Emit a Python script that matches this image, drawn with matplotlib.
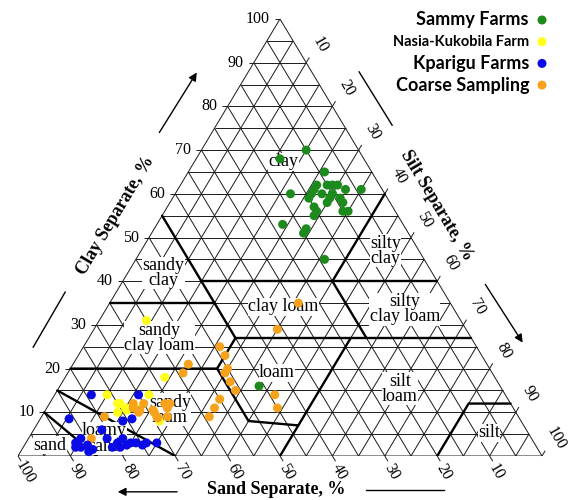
import numpy as np
import matplotlib.pyplot as plt

# Soil texture of each sample: percent sand and percent clay (silt is the rest)
sammy_sand = [10, 16, 9, 18, 4, 13, 12, 10, 9, 8, 7, 15, 14, 11, 12, 10, 9, 9, 10, 9,
              15, 15, 16, 10, 12, 23, 19, 20, 19, 46]
sammy_clay = [70, 68, 65, 60, 61, 61, 62, 62, 62, 62, 61, 59, 60, 59, 58, 60, 59, 58, 56, 56,
              57, 56, 55, 60, 60, 53, 52, 51, 45, 16]

nasia_sand = [60, 63, 76, 68, 75, 74, 74, 76, 69, 69, 72, 74.5]
nasia_clay = [31, 18, 14, 14, 12, 11, 10.5, 10, 9, 8, 11, 12]

kparigu_sand = [79, 70, 86, 81, 76, 74, 86, 88, 87, 86, 81, 79.5, 78, 76, 74, 72, 81, 79.5,
                78, 77, 75, 85, 87.5, 85.5]
kparigu_clay = [14, 14, 8.5, 6, 8, 8.5, 4, 2, 2, 1, 4, 3, 2.5, 3, 3, 3, 2, 2,
                4, 3, 2.5, 1.5, 3, 2.5]

coarse_sand = [29, 36, 49, 49, 50, 57, 59, 51, 51, 51, 44, 45, 55, 57, 59, 65, 72, 70, 72,
               69, 69, 66, 79, 84, 67, 66, 69, 71.5, 72.5, 69]
coarse_clay = [35, 29, 25, 23, 20, 21, 19, 19, 17, 15, 14, 11, 13, 11, 9, 12, 12, 12, 10,
               10.5, 9, 12, 9, 4, 9, 11, 10, 10.5, 11, 8.7]

series_names = ["Sammy Farms", "Nasia-Kukobila Farm", "Kparigu Farms", "Coarse Sampling"]
series_colors = ["#1c8a1c", "#ffff1a", "#0a0ae6", "#f7a21c"]

# USDA texture class boundaries as (silt, clay) polylines
boundaries = [
    [(0, 55), (28, 27)],
    [(0, 35), (20, 35)],
    [(15, 40), (60, 40)],
    [(40, 40), (40, 60)],
    [(40, 40), (53, 27)],
    [(28, 27), (73, 27)],
    [(0, 20), (28, 20), (28, 27)],
    [(28, 20), (40, 8), (50, 7)],
    [(50, 27), (50, 0)],
    [(88, 12), (80, 12), (80, 0)],
    [(0, 15), (30, 0)],
    [(0, 10), (15, 0)],
]


def tern(sand, clay):
    # sand corner on the left, silt corner on the right, clay at the top
    sand = np.asarray(sand, dtype=float)
    clay = np.asarray(clay, dtype=float)
    silt = 100 - sand - clay
    return silt + clay / 2, clay


fig = plt.figure(figsize=(5.68, 5.0), dpi=100)
ax = fig.add_axes([18 / 568, 44 / 500, 524 / 568, 437 / 500])
ax.set_xlim(0, 100)
ax.set_ylim(0, 100)
ax.axis("off")

serif = "Liberation Serif"
grid_kw = dict(color="#1a1a1a", lw=0.7, zorder=1, solid_capstyle="butt")

# 5 % grid in all three directions
for v in range(5, 100, 5):
    ax.plot([v / 2, 100 - v / 2], [v, v], **grid_kw)
    ax.plot([v, v + (100 - v) / 2], [0, 100 - v], **grid_kw)
    ax.plot([100 - v, (100 - v) / 2], [0, 100 - v], **grid_kw)
ax.plot([0, 100, 50, 0], [0, 0, 100, 0], **grid_kw)

for line in boundaries:
    silt, clay = zip(*line)
    xs = [s + c / 2 for s, c in zip(silt, clay)]
    ax.plot(xs, clay, color="black", lw=1.7, zorder=2, solid_capstyle="round")

# ticks and tick labels
for v in range(10, 101, 10):
    # clay, on the left side
    ax.plot([v / 2, v / 2 - 1.0], [v, v], clip_on=False, **grid_kw)
    ax.annotate(str(v), (v / 2, v), xytext=(-10, 0), textcoords="offset pixels",
                ha="right", va="center", fontsize=11.5, family=serif)
    # silt, on the right side
    x0, y0 = 50 + v / 2, 100 - v
    ax.plot([x0, x0 + 0.6], [y0, y0 + 1.2], clip_on=False, **grid_kw)
    ax.annotate(str(v), (x0, y0), xytext=(14, 18), textcoords="offset pixels",
                ha="center", va="center", rotation=-60, fontsize=11.5, family=serif)
    # sand, along the bottom
    ax.plot([100 - v, 100 - v + 0.6], [0, -1.2], clip_on=False, **grid_kw)
    ax.annotate(str(v), (100 - v, 0), xytext=(7, -16), textcoords="offset pixels",
                ha="center", va="center", rotation=-60, fontsize=11.5, family=serif)

# texture class names
class_labels = [
    ("clay", 50.6, 67.3), ("sandy\nclay", 27.7, 41.9), ("sandy\nclay loam", 27.0, 27.1),
    ("clay loam", 50.6, 34.1), ("silty\nclay", 70.1, 47.0), ("silty\nclay loam", 73.8, 33.6),
    ("loam", 49.4, 19.0), ("silt\nloam", 72.9, 15.4), ("silt", 89.9, 5.3),
    ("sandy\nloam", 29.0, 10.6), ("loamy\nsand", 16.5, 4.0), ("sand", 6.1, 2.5),
]
for txt, x, y in class_labels:
    ax.text(x, y, txt, ha="center", va="center", ma="center", fontsize=13, family=serif,
            linespacing=0.85, zorder=3,
            bbox=dict(facecolor="white", edgecolor="none", pad=0.3))

# axis titles and direction arrows
title_kw = dict(fontsize=13, family=serif, fontweight="bold", ha="center", va="center")
ax.text(18.7, 55.1, "Clay Separate, %", rotation=59, **title_kw)
ax.text(79.8, 57.4, "Silt Separate, %", rotation=-59, **title_kw)
ax.text(49.2, -7.6, "Sand Separate, %", **title_kw)

arrow_kw = dict(arrowstyle="-|>", color="black", lw=1.0, mutation_scale=12)
ax.annotate("", xy=(34.4, 88.3), xytext=(26.7, 73.5), arrowprops=arrow_kw, annotation_clip=False)
ax.annotate("", xy=(96.6, 25.4), xytext=(88.9, 39.8), arrowprops=arrow_kw, annotation_clip=False)
ax.annotate("", xy=(18.5, -8.2), xytext=(30.9, -8.2), arrowprops=arrow_kw, annotation_clip=False)
ax.plot([2.9, 9.0], [24.9, 37.5], color="black", lw=1.0, clip_on=False)
ax.plot([65.1, 71.4], [87.9, 75.7], color="black", lw=1.0, clip_on=False)
ax.plot([66.4, 81.3], [-7.8, -7.8], color="black", lw=1.0, clip_on=False)

# sample points
groups = [(sammy_sand, sammy_clay), (nasia_sand, nasia_clay),
          (kparigu_sand, kparigu_clay), (coarse_sand, coarse_clay)]
for (sand, clay), color, z in zip(groups, series_colors, [5, 6, 8, 7]):
    x, y = tern(sand, clay)
    ax.scatter(x, y, s=42, color=color, edgecolors="none", zorder=z, clip_on=False)

# legend, top right
legend_sizes = [13, 10.5, 13, 13]
for i, (name, color, fs) in enumerate(zip(series_names, series_colors, legend_sizes)):
    yf = 1 - (20 + 21.7 * i) / 500
    fig.text(529 / 568, yf, name, ha="right", va="center", fontsize=fs,
             family="Lato", fontweight="bold")
    ax.scatter([542 / 568], [yf], s=42, color=color, edgecolors="none",
               transform=fig.transFigure, clip_on=False)

fig.savefig("out.png", dpi=100)
